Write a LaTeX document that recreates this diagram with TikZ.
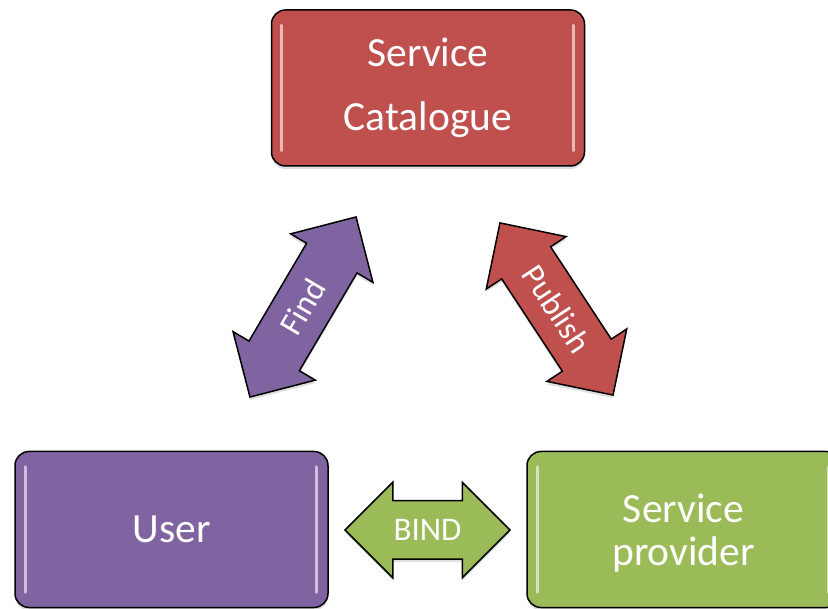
\documentclass[tikz,border=0pt]{standalone}
\usepackage{fontspec}
\setmainfont{Carlito}
\usetikzlibrary{shapes.arrows,shadows}
\definecolor{catred}{HTML}{C0504D}
\definecolor{userpurple}{HTML}{8064A2}
\definecolor{provgreen}{HTML}{9BBB59}
\tikzset{box/.style={rectangle, rounded corners=14pt, draw=black, line width=1.5pt, minimum width=313pt, minimum height=156pt, text=white, align=center, drop shadow={opacity=.25, shadow xshift=0pt, shadow yshift=-3pt}}}
\tikzset{dblarrow/.style={double arrow, double arrow head extend=18.5pt, double arrow tip angle=90, text height=22pt, text depth=0pt, inner ysep=17.5pt, inner xsep=0pt, draw=black, line width=1.5pt, text=white, font=\fontsize{33}{38}\selectfont, drop shadow={opacity=.25, shadow xshift=0pt, shadow yshift=-3pt}}}
\tikzset{gloss/.style={white, opacity=.6, line width=3pt, line cap=round}}

\begin{document}
\begin{tikzpicture}[x=1pt,y=-1pt]
  \useasboundingbox (0,0) rectangle (828,609);

  \node[box, fill=catred, font=\fontsize{41.5}{64}\selectfont] (cat) at (428,88) {Service\\Catalogue};
  \node[box, fill=userpurple, font=\fontsize{41.5}{47}\selectfont] (user) at (171.5,529.5) {User};
  \node[box, fill=provgreen, font=\fontsize{41.5}{44}\selectfont, text depth=0pt] (prov) at (683.5,529.5) {Service\\[-1pt]provider};

  \foreach \b in {cat,user,prov}{
    \draw[gloss] ([xshift=11pt,yshift=-16pt]\b.north west) -- ([xshift=11pt,yshift=16pt]\b.south west);
    \draw[gloss] ([xshift=-12pt,yshift=-16pt]\b.north east) -- ([xshift=-12pt,yshift=16pt]\b.south east);
  }

  \node[dblarrow, fill=userpurple, minimum height=209pt, rotate=59.5] (find) at (303,307) {Find};
  \node[dblarrow, fill=catred, minimum height=206pt, rotate=-56.7] (publish) at (556.5,309) {Publish};
  \node[dblarrow, fill=provgreen, minimum height=165pt] (bind) at (427.5,530) {BIND};
\end{tikzpicture}
\end{document}
